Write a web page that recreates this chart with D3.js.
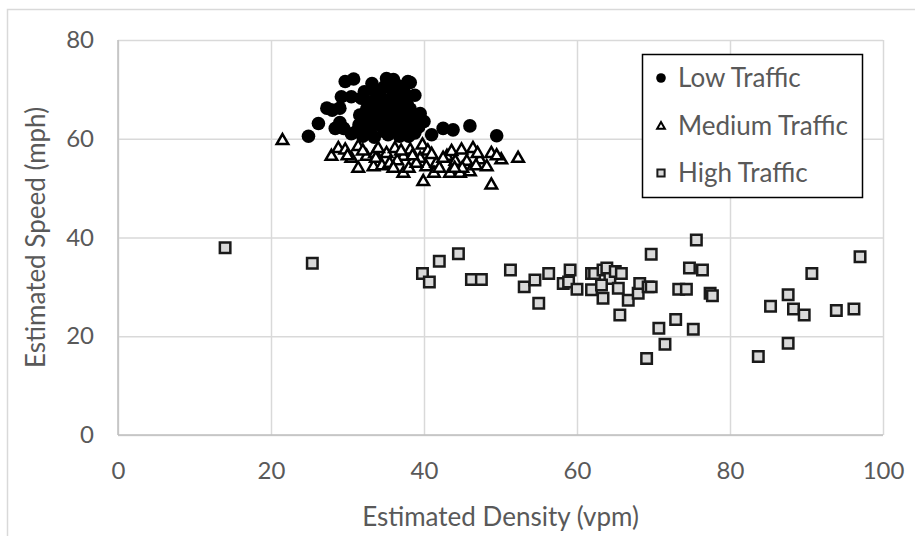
<!DOCTYPE html>
<html>
<head>
<meta charset="utf-8">
<script src="https://cdn.jsdelivr.net/npm/d3@7"></script>
<style>
  body { margin: 0; background: #fff; }
  text { font-family: Lato, "Open Sans", sans-serif; fill: #595959; }
</style>
</head>
<body>
<div id="chart"></div>
<script>
// series names, in the order Excel draws them
const seriesNames = ['Low Traffic', 'Medium Traffic', 'High Traffic'];

// [density (vpm), speed (mph)]
const lowTraffic = [
  [24.9, 60.5], [26.2, 63.1], [27.3, 66.2], [28.0, 65.8], [29.0, 66.2], [28.4, 62.1],
  [29.5, 62.1], [29.0, 63.3], [29.7, 71.6], [30.8, 72.1], [29.2, 68.5], [30.5, 68.5],
  [31.8, 68.2], [33.2, 71.2], [35.1, 72.2], [36.4, 70.9], [37.9, 71.6], [38.2, 71.4],
  [37.5, 69.2], [33.8, 68.2], [33.0, 67.5], [36.4, 69.5], [31.6, 64.8], [32.7, 63.5],
  [31.2, 61.5], [32.0, 60.5], [33.0, 62.0], [33.5, 60.3], [34.0, 64.0], [34.5, 62.5],
  [35.0, 66.0], [35.3, 60.8], [35.8, 63.0], [36.0, 65.0], [36.5, 61.5], [37.0, 63.5],
  [37.2, 66.5], [37.8, 62.0], [38.0, 60.5], [38.5, 64.0], [39.0, 62.5], [39.5, 65.1],
  [39.3, 62.4], [34.2, 69.0], [35.5, 68.0], [36.8, 67.8], [32.5, 66.0], [31.5, 62.8],
  [34.8, 70.5], [35.8, 70.0], [30.5, 61.0], [40.0, 63.5], [41.0, 60.8], [42.5, 62.1],
  [43.8, 61.8], [46.0, 62.6], [49.5, 60.6], [32.5, 61.5], [33.5, 63.0], [34.5, 65.5],
  [35.5, 64.5], [36.2, 62.5], [37.5, 64.8], [38.2, 66.0], [34.0, 66.5], [36.2, 66.8],
  [38.8, 61.2], [32.2, 69.5], [37.0, 70.5], [33.5, 70.0], [36.0, 72.0], [38.8, 68.8],
  [34.8, 61.5], [36.8, 60.5], [33.0, 65.2], [35.3, 67.2], [37.8, 67.0], [39.0, 64.0]
];
const mediumTraffic = [
  [21.5, 59.6], [27.9, 56.4], [28.8, 58.0], [29.7, 57.7], [30.5, 56.0], [31.4, 58.4],
  [31.4, 54.0], [32.5, 56.4], [33.4, 54.3], [33.6, 57.0], [33.7, 56.0], [35.1, 57.0],
  [36.2, 58.0], [37.3, 56.4], [38.2, 57.7], [37.3, 53.0], [39.8, 58.7], [39.5, 56.0],
  [40.3, 54.3], [39.9, 51.3], [41.6, 55.0], [43.0, 56.4], [43.6, 57.4], [44.1, 55.4],
  [44.9, 57.7], [45.6, 55.4], [46.4, 58.0], [47.3, 55.7], [48.2, 54.3], [48.8, 57.0],
  [50.1, 55.7], [52.3, 56.0], [48.8, 50.6], [43.4, 53.0], [44.7, 53.0], [41.3, 53.0],
  [46.0, 53.3], [34.5, 54.5], [35.5, 55.0], [36.5, 55.5], [38.0, 54.0], [39.0, 55.0],
  [34.0, 58.0], [30.0, 56.5], [32.0, 57.5], [37.0, 57.5], [40.5, 57.5], [42.0, 54.0],
  [42.5, 56.0], [45.0, 54.0], [47.0, 57.0], [49.5, 56.5], [36.0, 54.0], [38.5, 56.5],
  [41.0, 56.8], [46.8, 54.5], [44.0, 54.0]
];
const highTraffic = [
  [14.0, 37.9], [25.4, 34.8], [39.8, 32.7], [40.7, 31.0], [42.0, 35.2], [44.5, 36.7],
  [46.2, 31.5], [47.5, 31.5], [51.3, 33.4], [53.1, 30.0], [54.5, 31.4], [55.0, 26.7],
  [56.3, 32.7], [58.2, 30.7], [58.9, 31.0], [59.1, 33.4], [60.0, 29.5], [61.9, 32.7],
  [61.9, 29.4], [62.3, 32.7], [63.4, 33.4], [63.9, 33.8], [64.3, 31.7], [65.0, 33.1],
  [65.8, 32.7], [63.4, 27.7], [63.2, 30.4], [65.4, 29.7], [66.7, 27.3], [65.6, 24.3],
  [68.0, 28.7], [68.2, 30.7], [69.3, 30.0], [69.7, 30.0], [69.7, 36.6], [69.1, 15.5],
  [70.7, 21.6], [71.5, 18.4], [72.9, 23.4], [73.3, 29.5], [74.3, 29.5], [74.7, 33.8],
  [75.2, 21.4], [75.6, 39.5], [76.4, 33.4], [77.4, 28.7], [77.7, 28.2], [83.7, 15.9],
  [85.3, 26.1], [87.6, 28.4], [87.6, 18.6], [88.3, 25.5], [89.7, 24.3], [90.7, 32.7],
  [93.9, 25.2], [96.2, 25.5], [97.0, 36.1]
];

const xTicks = [0, 20, 40, 60, 80, 100];
const yTicks = [0, 20, 40, 60, 80];
const xTitle = 'Estimated Density (vpm)';
const yTitle = 'Estimated Speed (mph)';

const W = 915, H = 536;
const plot = { left: 118, right: 883, top: 40, bottom: 435 };

const svg = d3.select('#chart').append('svg')
  .attr('width', W)
  .attr('height', H);

// chart area border
svg.append('rect')
  .attr('x', 7.5).attr('y', 9.5)
  .attr('width', W + 10).attr('height', H + 10)
  .attr('fill', '#fff')
  .attr('stroke', '#d9d9d9')
  .attr('stroke-width', 1.5);

const x = d3.scaleLinear().domain([0, 100]).range([plot.left, plot.right]);
const y = d3.scaleLinear().domain([0, 80]).range([plot.bottom, plot.top]);

// gridlines
svg.append('g')
  .attr('transform', `translate(0,${plot.bottom})`)
  .call(d3.axisBottom(x).tickValues(xTicks).tickSize(-(plot.bottom - plot.top)).tickFormat(''))
  .call(g => g.select('.domain').remove())
  .selectAll('line').attr('stroke', '#d9d9d9').attr('stroke-width', 1.5);

svg.append('g')
  .attr('transform', `translate(${plot.left},0)`)
  .call(d3.axisLeft(y).tickValues(yTicks).tickSize(-(plot.right - plot.left)).tickFormat(''))
  .call(g => g.select('.domain').remove())
  .selectAll('line').attr('stroke', '#d9d9d9').attr('stroke-width', 1.5);

// axis lines
svg.append('line')
  .attr('x1', plot.left).attr('x2', plot.right)
  .attr('y1', plot.bottom).attr('y2', plot.bottom)
  .attr('stroke', '#bfbfbf').attr('stroke-width', 1.5);
svg.append('line')
  .attr('x1', plot.left).attr('x2', plot.left)
  .attr('y1', plot.top).attr('y2', plot.bottom)
  .attr('stroke', '#bfbfbf').attr('stroke-width', 1.5);

// tick labels
svg.append('g')
  .attr('transform', `translate(0,${plot.bottom})`)
  .call(d3.axisBottom(x).tickValues(xTicks).tickSize(0).tickPadding(27))
  .call(g => g.select('.domain').remove())
  .selectAll('text')
    .style('font-size', '24px')
    .attr('fill', '#595959');

svg.append('g')
  .attr('transform', `translate(${plot.left},0)`)
  .call(d3.axisLeft(y).tickValues(yTicks).tickSize(0).tickPadding(24))
  .call(g => g.select('.domain').remove())
  .selectAll('text')
    .style('font-size', '24px')
    .attr('fill', '#595959');

// axis titles
svg.append('text')
  .attr('x', (plot.left + plot.right) / 2)
  .attr('y', 526)
  .attr('text-anchor', 'middle')
  .style('font-size', '26px')
  .text(xTitle);

svg.append('text')
  .attr('transform', `translate(45,${(plot.top + plot.bottom) / 2}) rotate(-90)`)
  .attr('text-anchor', 'middle')
  .style('font-size', '26px')
  .text(yTitle);

// markers
const triangle = d3.symbol().type(d3.symbolTriangle);
const square = d3.symbol().type(d3.symbolSquare);

const drawSeries = (data, kind) => {
  const g = svg.append('g');
  if (kind === 0) {
    g.selectAll('circle').data(data).join('circle')
      .attr('cx', d => x(d[0]))
      .attr('cy', d => y(d[1]))
      .attr('r', 6.8)
      .attr('fill', '#000');
  } else if (kind === 1) {
    g.selectAll('path').data(data).join('path')
      .attr('transform', d => `translate(${x(d[0])},${y(d[1])})`)
      .attr('d', triangle.size(58)())
      .attr('fill', '#fff')
      .attr('stroke', '#000')
      .attr('stroke-width', 2.5)
      .attr('stroke-linejoin', 'miter');
  } else {
    g.selectAll('path').data(data).join('path')
      .attr('transform', d => `translate(${x(d[0])},${y(d[1])})`)
      .attr('d', square.size(110)())
      .attr('fill', '#d9d9d9')
      .attr('stroke', '#1a1a1a')
      .attr('stroke-width', 2.5);
  }
};

drawSeries(lowTraffic, 0);
drawSeries(mediumTraffic, 1);
drawSeries(highTraffic, 2);

// legend
const legend = svg.append('g');
legend.append('rect')
  .attr('x', 642.5).attr('y', 54.5)
  .attr('width', 220).attr('height', 143)
  .attr('fill', '#fff')
  .attr('stroke', '#000')
  .attr('stroke-width', 1.5);

const rowY = d3.scalePoint().domain(seriesNames).range([78, 173]);

seriesNames.forEach((name, i) => {
  const cy = rowY(name);
  if (i === 0) {
    legend.append('circle').attr('cx', 661).attr('cy', cy).attr('r', 4.8).attr('fill', '#000');
  } else if (i === 1) {
    legend.append('path')
      .attr('transform', `translate(661,${cy + 1})`)
      .attr('d', triangle.size(26)())
      .attr('fill', '#fff').attr('stroke', '#000').attr('stroke-width', 2);
  } else {
    legend.append('path')
      .attr('transform', `translate(661,${cy})`)
      .attr('d', square.size(52)())
      .attr('fill', '#d9d9d9').attr('stroke', '#1a1a1a').attr('stroke-width', 2);
  }
  legend.append('text')
    .attr('x', 678)
    .attr('y', cy)
    .attr('dy', '0.36em')
    .style('font-size', '26px')
    .text(name);
});
</script>
</body>
</html>
